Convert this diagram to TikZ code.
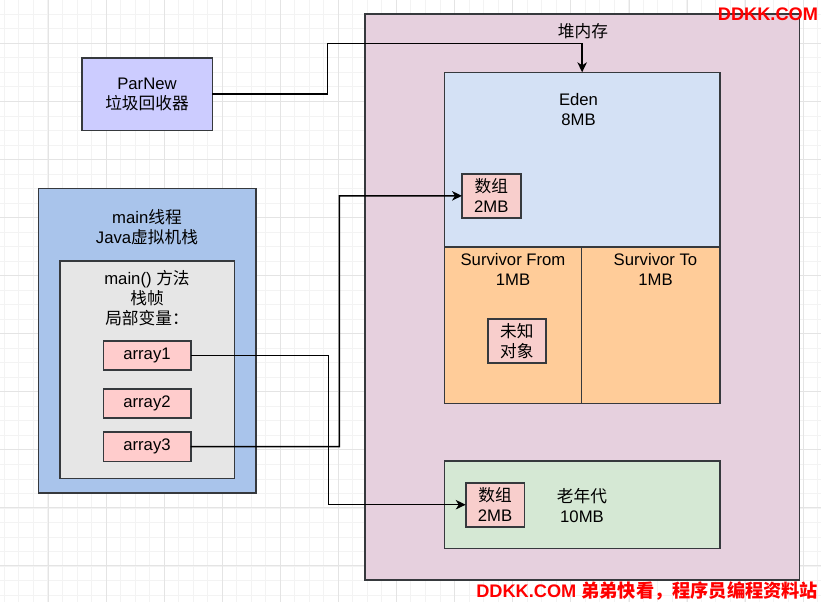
\documentclass[tikz,border=0pt]{standalone}
\usepackage{fontspec}
\setmainfont{Liberation Sans}
\newfontfamily\cjk{Noto Sans CJK SC}
\usetikzlibrary{arrows.meta}
\definecolor{cParNew}{HTML}{CCCCFF}
\definecolor{cStack}{HTML}{A9C4EB}
\definecolor{cFrame}{HTML}{E6E6E6}
\definecolor{cVar}{HTML}{FFCCCC}
\definecolor{cHeap}{HTML}{E6D0DE}
\definecolor{cEden}{HTML}{D4E1F5}
\definecolor{cObj}{HTML}{F8CECC}
\definecolor{cSurv}{HTML}{FFCC99}
\definecolor{cOld}{HTML}{D5E8D4}
\definecolor{cStroke}{HTML}{36393D}
\definecolor{cGridMinor}{HTML}{F3F3F3}
\definecolor{cGridMajor}{HTML}{E4E4E4}
\definecolor{cMark}{HTML}{FF0000}
\begin{document}
\begin{tikzpicture}[x=1pt,y=-1pt,
  every node/.style={inner sep=0pt,outer sep=0pt,font={\fontsize{16.7}{20}\selectfont},align=center},
  box/.style={draw=cStroke,line width=1.6pt,anchor=north west},
  lbl/.style={draw=none,fill=none},
  gridminor/.style={draw=cGridMinor,line width=0.8pt},
  gridmajor/.style={draw=cGridMajor,line width=1pt},
  conn/.style={draw=black,line width=1.4pt,-{Stealth[length=10pt,width=9.5pt,inset=3pt]}},
  wmark/.style={text=cMark,font={\fontsize{18.2}{20}\selectfont\bfseries}}]
\useasboundingbox (0,0) rectangle (821,602);
\fill[white] (0,0) rectangle (821,602);
% grid
\foreach \i in {0,...,56} {\draw[gridminor] ({4.3+14.52*\i},0) -- ({4.3+14.52*\i},602);}
\foreach \i in {0,...,40} {\draw[gridminor] (0,{14.26+14.52*\i}) -- (821,{14.26+14.52*\i});}
\foreach \i in {0,...,13} {\draw[gridmajor] ({48.3+58.07*\i},0) -- ({48.3+58.07*\i},602);}
\foreach \i in {0,...,9} {\draw[gridmajor] (0,{43.3+58.07*\i}) -- (821,{43.3+58.07*\i});}

% ParNew
\node[box,fill=cParNew,minimum width=130.6pt,minimum height=72.3pt] (parnew) at (81.7,58) {};
\node[lbl] (parnewtxt) at (parnew.center) {ParNew\\{\cjk 垃圾回收器}};

% Java stack
\node[box,fill=cStack,minimum width=217.4pt,minimum height=304.4pt] (stack) at (38.3,188.3) {};
\node[lbl] (stacktxt) at (147,226.7) {main{\cjk 线程}\\Java{\cjk 虚拟机栈}};
\node[box,fill=cFrame,minimum width=174.3pt,minimum height=217.3pt] (frame) at (60,261) {};
\node[lbl] (frametxt) at (147,298.3) {main() {\cjk 方法}\\{\cjk 栈帧}\\{\cjk 局部变量：}};
\node[box,fill=cVar,minimum width=87.4pt,minimum height=29pt] (array1) at (103.3,340.7) {array1};
\node[box,fill=cVar,minimum width=87.4pt,minimum height=29pt] (array2) at (103.3,388.7) {array2};
\node[box,fill=cVar,minimum width=87.4pt,minimum height=29.3pt] (array3) at (103.3,432) {array3};

% Heap
\node[box,fill=cHeap,minimum width=434.6pt,minimum height=565.7pt] (heap) at (364.7,14.3) {};
\node[lbl] (heaptxt) at (583,30.7) {\cjk 堆内存};
\node[box,fill=cEden,minimum width=275.7pt,minimum height=174.4pt] (eden) at (444.3,72.3) {};
\node[lbl] (edentxt) at (578.5,110) {Eden\\8MB};
\node[box,fill=cObj,minimum width=58.7pt,minimum height=44.3pt] (arrE) at (462,173.7) {{\cjk 数组}\\2MB};
\node[box,fill=cSurv,minimum width=137pt,minimum height=156.6pt] (surfrom) at (444.3,246.7) {};
\node[lbl] (surfromtxt) at (513,269.3) {Survivor From\\1MB};
\node[box,fill=cSurv,minimum width=138.7pt,minimum height=156.6pt] (surto) at (581.3,246.7) {};
\node[lbl] (surtotxt) at (655.5,269.3) {Survivor To\\1MB};
\node[box,fill=cObj,minimum width=58.3pt,minimum height=43.7pt] (unknown) at (487.7,319) {{\cjk 未知}\\{\cjk 对象}};
\node[box,fill=cOld,minimum width=275.7pt,minimum height=87.3pt] (old) at (444.3,461) {};
\node[lbl] (oldtxt) at (582,505.5) {{\cjk 老年代}\\10MB};
\node[box,fill=cObj,minimum width=58.6pt,minimum height=44pt] (arrO) at (465.7,482.7) {{\cjk 数组}\\2MB};

% connectors
\coordinate (p1) at (327.3,43.3);
\draw[conn] (parnew.east) -| (p1) -| (eden.north);
\coordinate (a1) at (328.3,504.7);
\draw[conn] (array1.east) -| (a1) -- (arrO.west);
\coordinate (a3) at (339.3,195.85);
\draw[conn] (array3.east) -| (a3) -- (arrE.west);

% watermarks
\node[wmark,anchor=east] (mark1) at (818,14) {DDKK.COM};
\node[wmark,anchor=east] (mark2) at (818,591) {DDKK.COM {\cjk 弟弟快看，程序员编程资料站}};
\end{tikzpicture}
\end{document}
